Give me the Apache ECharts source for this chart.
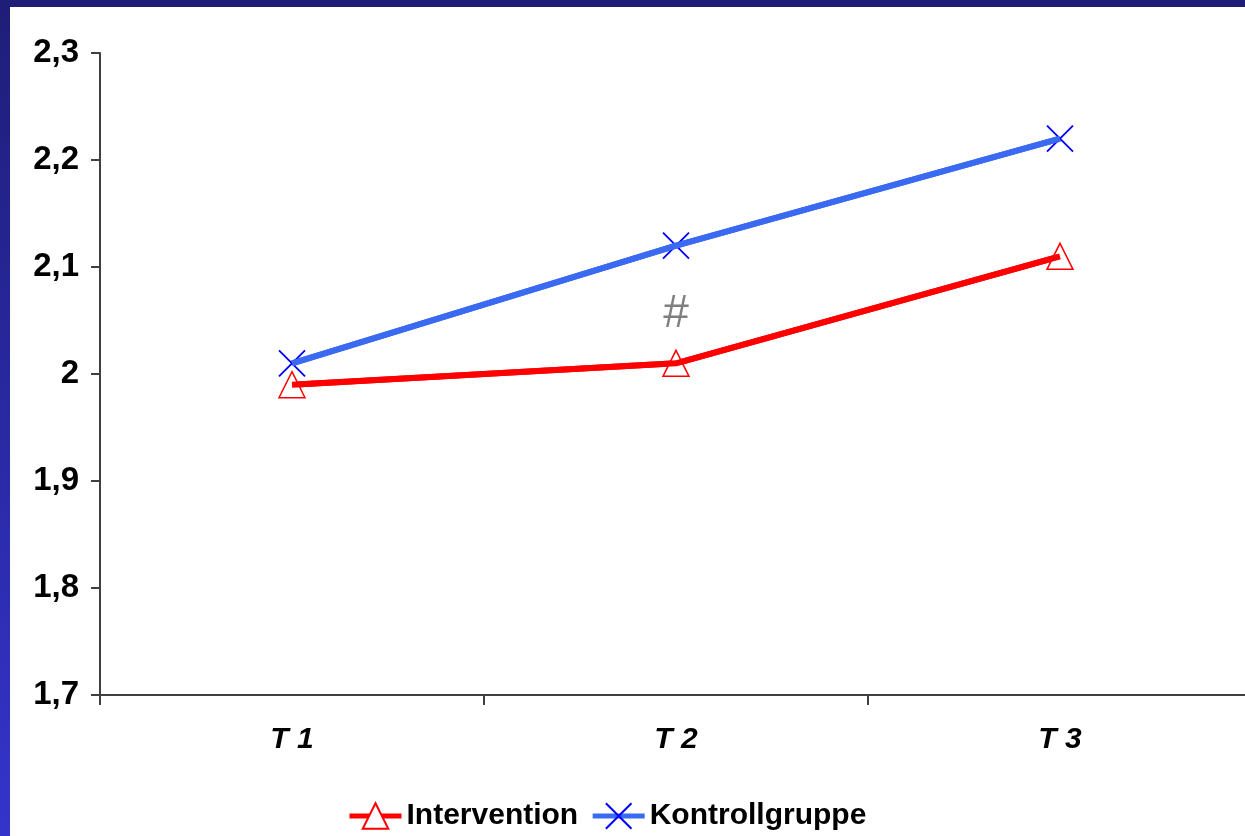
<!DOCTYPE html>
<html>
<head>
<meta charset="utf-8">
<script src="https://cdn.jsdelivr.net/npm/echarts@6/dist/echarts.min.js"></script>
<style>
  html, body { margin: 0; padding: 0; background: #fff; overflow: hidden; }
  #chart { width: 1252px; height: 836px; }
</style>
</head>
<body>
<div id="chart"></div>
<script>
// ---- data ----
const categories = ['T1', 'T2', 'T3'];
const interventionValues = [1.99, 2.01, 2.11];
const kontrollValues = [2.01, 2.12, 2.22];
const seriesNames = ['Intervention', 'Kontrollgruppe'];
const yMin = 1.7, yMax = 2.3, yStep = 0.1;
const annotationText = '#';
const annotationAt = ['T2', 2.056];

const chart = echarts.init(document.getElementById('chart'), null, { renderer: 'canvas' });
const baseFont = '"Liberation Sans", Arial, sans-serif';
const xSymbol = 'path://M0,0L10,10M10,0L0,10';
const red = '#ff0000', blueLine = '#3a6af2', blueMark = '#0000ff';

chart.setOption({
  animation: false,
  backgroundColor: '#ffffff',
  graphic: [
    { type: 'rect', left: 0, top: 0, shape: { width: 1252, height: 7 }, style: { fill: '#1e1e78' }, z: 100 },
    { type: 'rect', left: 0, top: 0, shape: { width: 10, height: 836 },
      style: { fill: new echarts.graphic.LinearGradient(0, 0, 0, 1, [
        { offset: 0, color: '#1e1e78' }, { offset: 1, color: '#3434cc' }]) }, z: 100 }
  ],
  grid: { left: 100, top: 53, right: 0, height: 642, containLabel: false },
  legend: {
    data: seriesNames,
    top: 796,
    left: 342,
    itemWidth: 52,
    itemHeight: 32,
    itemGap: 12,
    lineStyle: { width: 5 },
    textStyle: { fontFamily: baseFont, fontWeight: 'bold', fontSize: 30, color: '#000' }
  },
  xAxis: {
    type: 'category',
    data: categories,
    boundaryGap: true,
    axisLine: { show: true, lineStyle: { color: '#404040', width: 2 } },
    axisTick: { show: true, length: 10, interval: 0, lineStyle: { color: '#404040', width: 2 } },
    axisLabel: { margin: 30, fontFamily: baseFont, fontWeight: 'bold', fontStyle: 'italic', fontSize: 30, color: '#000',
      formatter: v => v.replace(/^T/, 'T ') },
    splitLine: { show: false }
  },
  yAxis: {
    type: 'value',
    min: yMin, max: yMax, interval: yStep,
    axisLine: { show: true, lineStyle: { color: '#404040', width: 2 } },
    axisTick: { show: true, length: 9, inside: false, lineStyle: { color: '#404040', width: 2 } },
    axisLabel: { margin: 21, fontFamily: baseFont, fontWeight: 'bold', fontSize: 33, color: '#000',
      formatter: v => String(Math.round(v * 10) / 10).replace('.', ',') },
    splitLine: { show: false }
  },
  series: [
    {
      name: seriesNames[0],
      type: 'line',
      data: interventionValues,
      symbol: 'triangle',
      symbolSize: 26,
      lineStyle: { color: red, width: 6 },
      itemStyle: { color: '#ffffff', borderColor: red, borderWidth: 1.5 },
      z: 2
    },
    {
      name: seriesNames[1],
      type: 'line',
      data: kontrollValues,
      symbol: xSymbol,
      symbolSize: 26,
      lineStyle: { color: blueLine, width: 6 },
      itemStyle: { color: 'rgba(0,0,0,0)', borderColor: blueMark, borderWidth: 1.8 },
      z: 2,
      markPoint: {
        symbol: 'circle',
        symbolSize: 1,
        itemStyle: { color: 'rgba(0,0,0,0)', borderWidth: 0 },
        label: { show: true, position: 'inside', formatter: annotationText, color: '#808080',
          fontFamily: baseFont, fontSize: 46, fontWeight: 'normal' },
        data: [{ coord: annotationAt }]
      }
    },
    // lines drawn again on top of the markers (as in the original)
    {
      name: seriesNames[0], type: 'line', data: interventionValues, showSymbol: false,
      lineStyle: { color: red, width: 6 }, itemStyle: { color: red }, z: 4
    },
    {
      name: seriesNames[1], type: 'line', data: kontrollValues, showSymbol: false,
      lineStyle: { color: blueLine, width: 6 }, itemStyle: { color: blueLine }, z: 4
    }
  ]
});
</script>
</body>
</html>
